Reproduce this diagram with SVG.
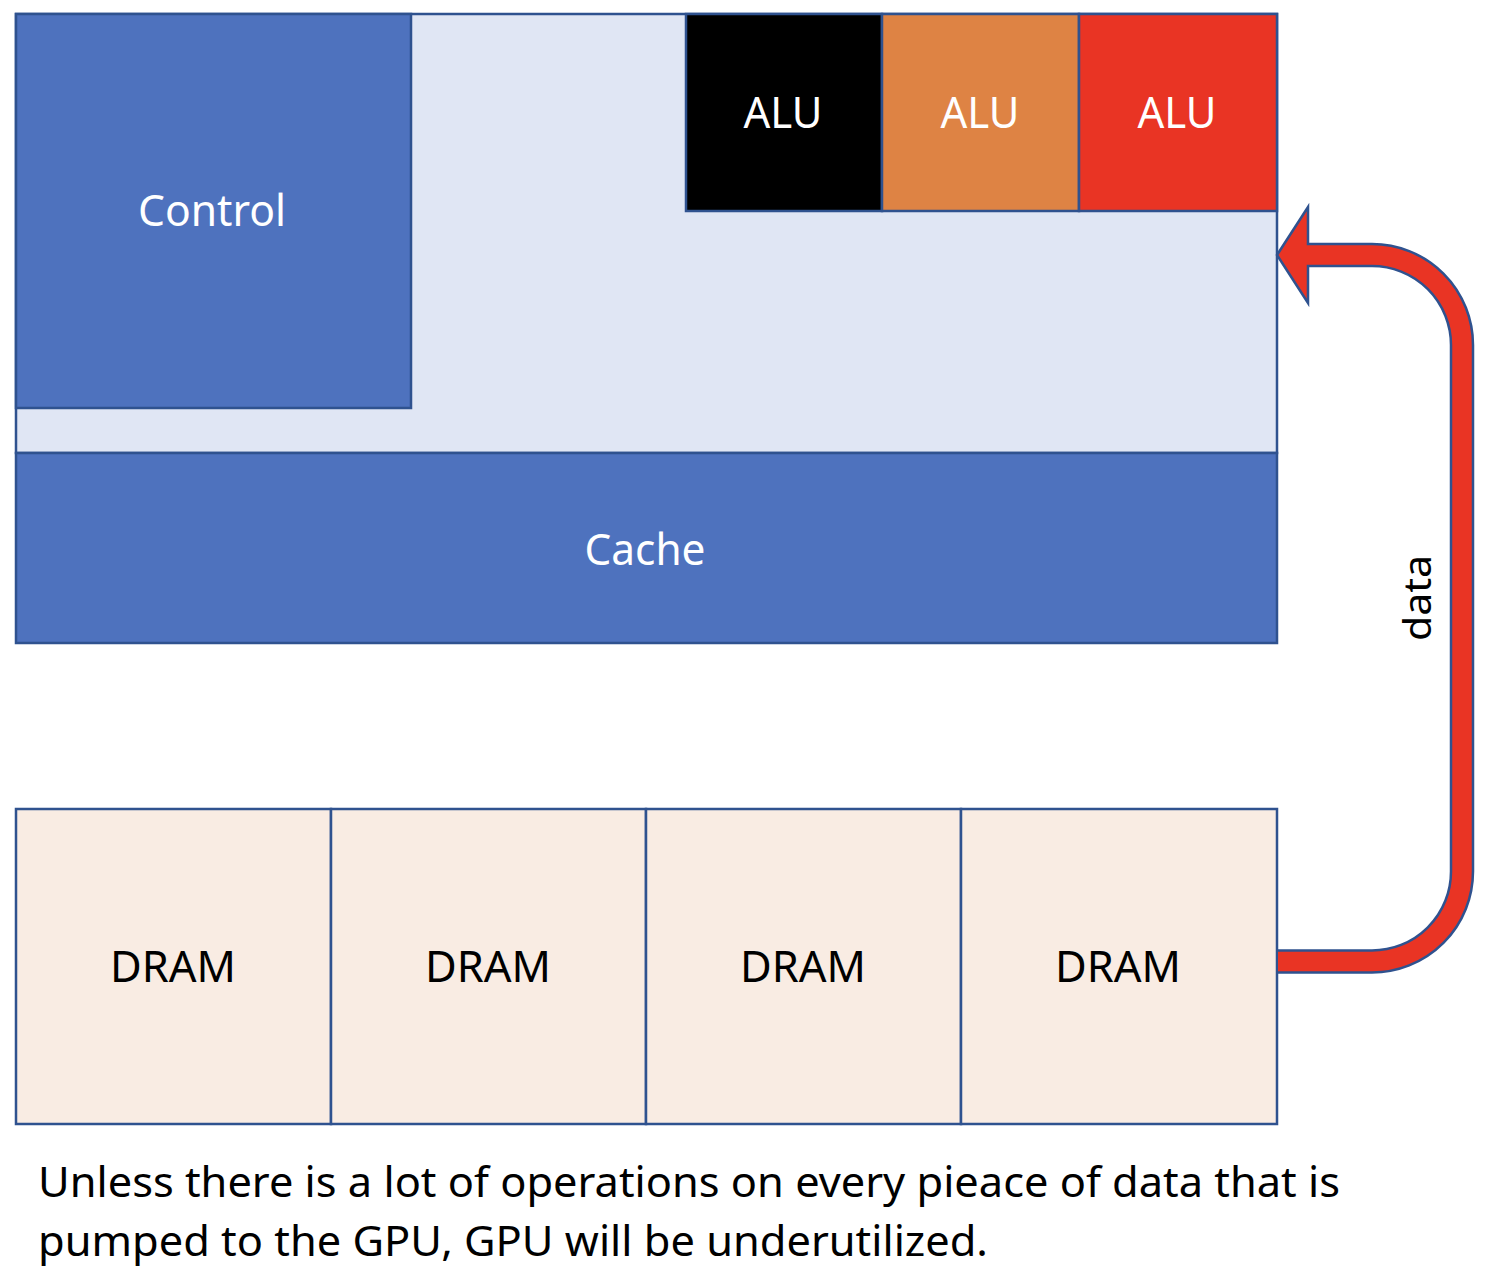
<svg xmlns="http://www.w3.org/2000/svg" width="1504" height="1286" viewBox="0 0 1504 1286">
<style>
.box{stroke:#2F528F;stroke-width:2.5}
.blue{fill:#4E72BE}
.lbl{font-family:"Noto Sans","Open Sans","Liberation Sans",sans-serif;text-anchor:middle;font-size:44px}
.w{fill:#FFFFFF}
.k{fill:#000000}
.cap{font-family:"Noto Sans","Open Sans","Liberation Sans",sans-serif;font-size:42px;fill:#000000}
</style>
<rect width="1504" height="1286" fill="#FFFFFF"/>
<g id="gpu">
<rect class="box" x="16" y="14" width="1261" height="439" fill="#E0E6F4"/>
</g>
<g id="control">
<rect class="box blue" x="16" y="14" width="395" height="394"/>
<text class="lbl w" x="212" y="226" textLength="148" lengthAdjust="spacingAndGlyphs">Control</text>
</g>
<g id="cache">
<rect class="box blue" x="16" y="453" width="1261" height="190"/>
<text class="lbl w" x="645" y="565" textLength="121" lengthAdjust="spacingAndGlyphs">Cache</text>
</g>
<g id="alu1">
<rect class="box" x="686" y="14" width="196" height="197" fill="#000000"/>
<text class="lbl w" x="783" y="128" textLength="79" lengthAdjust="spacingAndGlyphs">ALU</text>
</g>
<g id="alu2">
<rect class="box" x="882" y="14" width="197" height="197" fill="#DE8344"/>
<text class="lbl w" x="980" y="128" textLength="79" lengthAdjust="spacingAndGlyphs">ALU</text>
</g>
<g id="alu3">
<rect class="box" x="1079" y="14" width="198" height="197" fill="#E93424"/>
<text class="lbl w" x="1177" y="128" textLength="79" lengthAdjust="spacingAndGlyphs">ALU</text>
</g>
<g id="dram1">
<rect class="box" x="16" y="809" width="315" height="315" fill="#F9ECE3"/>
<text class="lbl k" x="173" y="982" textLength="126" lengthAdjust="spacingAndGlyphs">DRAM</text>
</g>
<g id="dram2">
<rect class="box" x="331" y="809" width="315" height="315" fill="#F9ECE3"/>
<text class="lbl k" x="488" y="982" textLength="126" lengthAdjust="spacingAndGlyphs">DRAM</text>
</g>
<g id="dram3">
<rect class="box" x="646" y="809" width="315" height="315" fill="#F9ECE3"/>
<text class="lbl k" x="803" y="982" textLength="126" lengthAdjust="spacingAndGlyphs">DRAM</text>
</g>
<g id="dram4">
<rect class="box" x="961" y="809" width="316" height="315" fill="#F9ECE3"/>
<text class="lbl k" x="1118" y="982" textLength="126" lengthAdjust="spacingAndGlyphs">DRAM</text>
</g>
<g id="connectors">
<path d="M1278 961.5 H1372 A90 90 0 0 0 1462 871.5 V345 A90 90 0 0 0 1372 255 H1305" fill="none" stroke="#2F528F" stroke-width="24.5"/>
<polygon points="1277,255 1308,207 1308,303" fill="#E93424" stroke="#2F528F" stroke-width="2.5" stroke-linejoin="miter"/>
<path d="M1278 961.5 H1372 A90 90 0 0 0 1462 871.5 V345 A90 90 0 0 0 1372 255 H1300" fill="none" stroke="#E93424" stroke-width="19.5"/>
<text class="lbl k" transform="translate(1431 598) rotate(-90)" style="font-size:38px" textLength="86" lengthAdjust="spacingAndGlyphs">data</text>
</g>
<g id="caption">
<text class="cap" x="38" y="1197" textLength="1302" lengthAdjust="spacingAndGlyphs">Unless there is a lot of operations on every pieace of data that is</text>
<text class="cap" x="38" y="1256" textLength="950" lengthAdjust="spacingAndGlyphs">pumped to the GPU, GPU will be underutilized.</text>
</g>
</svg>
